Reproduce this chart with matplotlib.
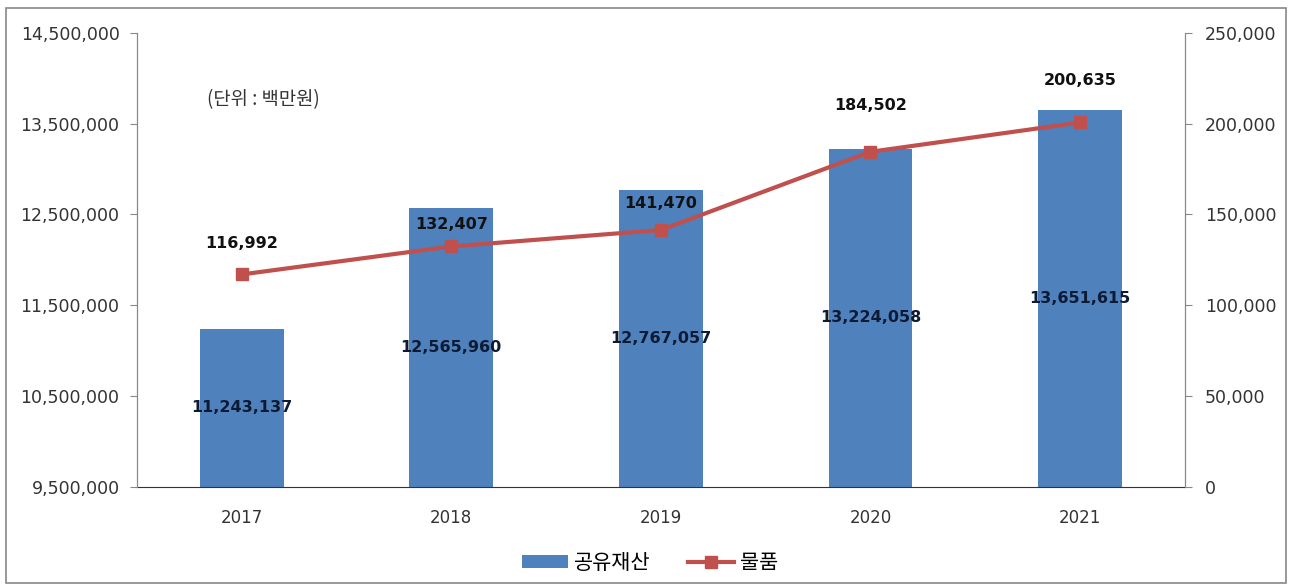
import numpy as np
import matplotlib.pyplot as plt
from matplotlib.patches import Rectangle
import matplotlib.ticker as ticker

plt.rcParams['font.family'] = ['DejaVu Sans', 'Noto Sans CJK KR']

years = ['2017', '2018', '2019', '2020', '2021']
property_vals = [11243137, 12565960, 12767057, 13224058, 13651615]   # 공유재산
goods_vals = [116992, 132407, 141470, 184502, 200635]                # 물품

bar_color = '#4F81BD'
line_color = '#C0504D'

fig = plt.figure(figsize=(12.92, 5.86), dpi=100)
ax = fig.add_axes([0.106, 0.169, 0.811, 0.775])
ax2 = ax.twinx()

x = np.arange(len(years))
ax.bar(x, [v - 9500000 for v in property_vals], bottom=9500000, width=0.4,
       color=bar_color, label='공유재산', zorder=2)
ax.set_ylim(9500000, 14500000)
ax.set_xlim(-0.5, len(years) - 0.5)
ax.set_yticks(np.arange(9500000, 14500001, 1000000))
ax.yaxis.set_major_formatter(ticker.FuncFormatter(lambda v, p: f'{int(v):,}'))
ax.set_xticks(x)
ax.set_xticklabels(years)

ax2.plot(x, goods_vals, color=line_color, linewidth=3, marker='s', markersize=8,
         label='물품', zorder=3)
ax2.set_ylim(0, 250000)
ax2.set_yticks(np.arange(0, 250001, 50000))
ax2.yaxis.set_major_formatter(ticker.FuncFormatter(lambda v, p: f'{int(v):,}'))

for a in (ax, ax2):
    a.spines['top'].set_visible(False)
    for s in a.spines.values():
        s.set_color('#888888')
    a.tick_params(axis='x', labelsize=12, colors='#333333', length=0, pad=16)
ax.tick_params(axis='y', labelsize=12.5, colors='#333333', length=5, color='#888888', pad=7.5)
ax2.tick_params(axis='y', labelsize=12.5, colors='#333333', length=5, color='#888888', pad=9.5)
ax.spines['bottom'].set_color('#333333')
ax2.spines['bottom'].set_visible(False)

# bar labels (middle of bar)
for xi, v in zip(x, property_vals):
    ax.text(xi, (9500000 + v) / 2, f'{v:,}', ha='center', va='center',
            fontsize=11.5, fontweight='bold', color='#0d1a33', zorder=4)

# line labels above points
label_offsets = [22, 16, 19, 33, 30]
for xi, v, off in zip(x, goods_vals, label_offsets):
    ax2.annotate(f'{v:,}', (xi, v), xytext=(0, off), textcoords='offset points',
                 ha='center', va='center', fontsize=11.5, fontweight='bold', color='#111111')

fig.text(0.204, 0.83, '(단위 : 백만원)', fontsize=13.5, color='#333333', ha='center', va='center',
         family=['Noto Sans CJK KR', 'DejaVu Sans'])

h1, l1 = ax.get_legend_handles_labels()
h2, l2 = ax2.get_legend_handles_labels()
fig.legend(h1 + h2, l1 + l2, loc='center', bbox_to_anchor=(0.503, 0.04), ncol=2,
           frameon=False, prop={'family': ['Noto Sans CJK KR'], 'size': 15},
           handlelength=2.2, handleheight=0.6, handletextpad=0.3, columnspacing=1.8)

fig.patches.append(Rectangle((0.005, 0.005), 0.99, 0.982, transform=fig.transFigure,
                             fill=False, edgecolor='#888888', linewidth=1.2))

fig.savefig('out.png', dpi=100)
